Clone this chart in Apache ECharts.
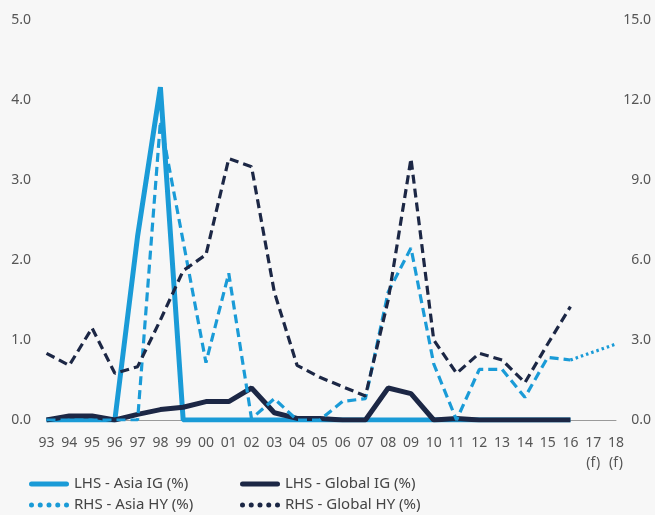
<!DOCTYPE html>
<html>
<head>
<meta charset="utf-8">
<script src="https://cdn.jsdelivr.net/npm/echarts@6/dist/echarts.min.js"></script>
<style>
html,body{margin:0;padding:0;background:#f7f7f7;}
#chart{width:655px;height:515px;}
</style>
</head>
<body>
<div id="chart"></div>
<script>
const years = ['93','94','95','96','97','98','99','00','01','02','03','04','05','06','07','08','09','10','11','12','13','14','15','16','17\n(f)','18\n(f)'];
const leftTicks = [0, 1, 2, 3, 4, 5];
const rightTicks = [0, 3, 6, 9, 12, 15];

const asiaIG   = [0,0,0,0,2.3,4.16,0,0,0,0,0,0,0,0,0,0,0,0,0,0,0,0,0,0,null,null];
const globalIG = [0,0.05,0.05,0,0.07,0.13,0.16,0.23,0.23,0.4,0.09,0.02,0.02,0,0,0.4,0.33,0,0.02,0,0,0,0,0,null,null];
const asiaHY   = [0,0,0,0,0,11.2,6.7,2.15,5.5,0.05,0.8,0,0,0.7,0.8,4.8,6.45,2.1,0,1.9,1.9,0.85,2.35,2.25,null,null];
const asiaHYForecast = [null,null,null,null,null,null,null,null,null,null,null,null,null,null,null,null,null,null,null,null,null,null,null,2.25,2.55,2.85];
const globalHY = [2.5,2.05,3.45,1.75,2.0,3.75,5.6,6.2,9.8,9.5,4.8,2.05,1.6,1.25,0.9,4.5,9.8,3.0,1.75,2.5,2.25,1.4,2.85,4.25,null,null];

const seriesNames = ['LHS - Asia IG (%)','LHS - Global IG (%)','RHS - Asia HY (%)','RHS - Global HY (%)'];

const LIGHT = '#1a9bd7';
const NAVY = '#1c2745';
const FONT = 'Noto Sans';

const ICON_SOLID = 'path://M2.5,0 L37.5,0 A2.5,2.5 0 0 1 37.5,5 L2.5,5 A2.5,2.5 0 0 1 2.5,0 Z';
const ICON_DOTS = 'path://M0,2.5a2.5,2.5 0 1,0 5,0a2.5,2.5 0 1,0 -5,0Z M8.75,2.5a2.5,2.5 0 1,0 5,0a2.5,2.5 0 1,0 -5,0Z M17.5,2.5a2.5,2.5 0 1,0 5,0a2.5,2.5 0 1,0 -5,0Z M26.25,2.5a2.5,2.5 0 1,0 5,0a2.5,2.5 0 1,0 -5,0Z M35,2.5a2.5,2.5 0 1,0 5,0a2.5,2.5 0 1,0 -5,0Z';

const chart = echarts.init(document.getElementById('chart'), null, {renderer:'canvas'});
const legendText = {fontSize: 15, color: '#444', fontFamily: FONT};
const legendBase = {top: 476.5, orient: 'vertical', itemWidth: 40, itemHeight: 5, itemGap: 6, padding: 0,
  height: 39, textStyle: legendText, selectedMode: false};
chart.setOption({
  backgroundColor: '#f7f7f7',
  animation: false,
  textStyle: {fontFamily: FONT},
  grid: {left: 46.5, right: 39, top: 20, bottom: 95, containLabel: false},
  legend: [
    Object.assign({}, legendBase, {
      left: 29,
      data: [
        {name: seriesNames[0], icon: ICON_SOLID},
        {name: seriesNames[2], icon: ICON_DOTS}
      ]
    }),
    Object.assign({}, legendBase, {
      left: 240,
      data: [
        {name: seriesNames[1], icon: ICON_SOLID},
        {name: seriesNames[3], icon: ICON_DOTS}
      ]
    })
  ],
  xAxis: {
    type: 'category',
    data: years,
    boundaryGap: false,
    axisLine: {show: true, lineStyle: {color: '#9a9a9a', width: 1}},
    axisTick: {show: false},
    axisLabel: {color: '#555', fontSize: 14, margin: 13, lineHeight: 20, interval: 0}
  },
  yAxis: [
    {
      type: 'value', min: leftTicks[0], max: leftTicks[leftTicks.length-1], interval: 1,
      splitLine: {show: false}, axisLine: {show: false}, axisTick: {show: false},
      axisLabel: {color: '#555', fontSize: 14, margin: 15.5, formatter: v => v.toFixed(1)}
    },
    {
      type: 'value', position: 'right', min: rightTicks[0], max: rightTicks[rightTicks.length-1], interval: 3,
      splitLine: {show: false}, axisLine: {show: false}, axisTick: {show: false},
      axisLabel: {color: '#555', fontSize: 14, margin: 35, align: 'right', formatter: v => v.toFixed(1)}
    }
  ],
  series: [
    {name: seriesNames[0], type: 'line', yAxisIndex: 0, data: asiaIG, symbol: 'none', color: LIGHT,
     lineStyle: {width: 5, color: LIGHT}, z: 2},
    {name: seriesNames[1], type: 'line', yAxisIndex: 0, data: globalIG, symbol: 'none', color: NAVY,
     lineStyle: {width: 5, color: NAVY}, z: 3},
    {name: seriesNames[2], type: 'line', yAxisIndex: 1, data: asiaHY, symbol: 'none', color: LIGHT,
     lineStyle: {width: 3.2, color: LIGHT, type: [9, 5]}, z: 4},
    {name: seriesNames[2], type: 'line', yAxisIndex: 1, data: asiaHYForecast, symbol: 'none', color: LIGHT,
     lineStyle: {width: 3.2, color: LIGHT, type: [2.5, 3]}, z: 4},
    {name: seriesNames[3], type: 'line', yAxisIndex: 1, data: globalHY, symbol: 'none', color: NAVY,
     lineStyle: {width: 3.2, color: NAVY, type: [9, 5]}, z: 5}
  ]
});
</script>
</body>
</html>
